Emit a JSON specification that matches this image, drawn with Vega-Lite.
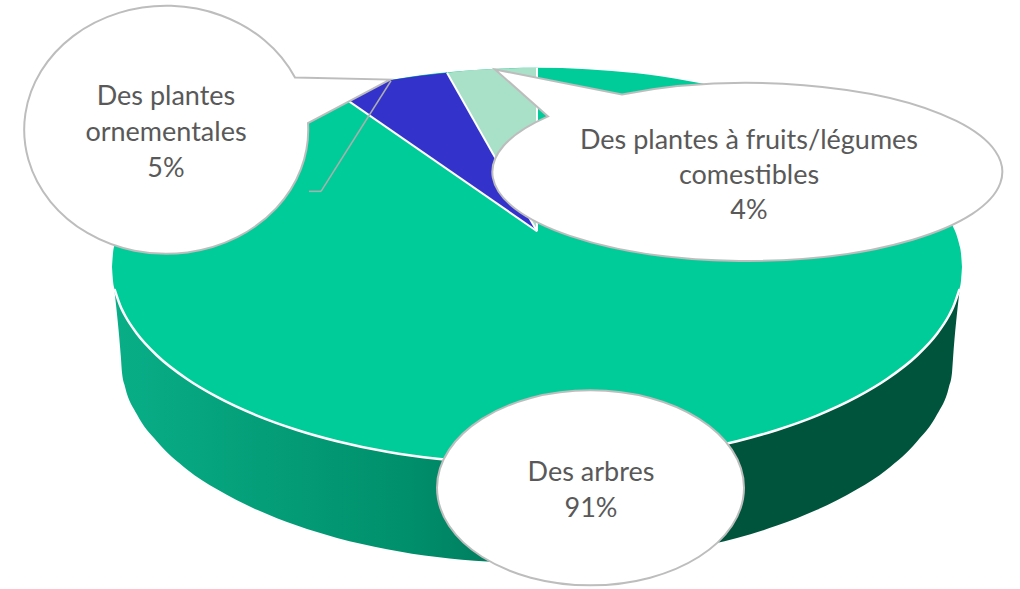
{
"$schema":"https://vega.github.io/schema/vega-lite/v6.json",
"width":1020,"height":589,"padding":0,"autosize":{"type":"fit","contains":"padding"},
"background":"white","config":{"view":{"stroke":null}},
"datasets":{
"slices":[{"name":"Des arbres","value":91,"label":"Des arbres\n91%"},{"name":"Des plantes ornementales","value":5,"label":"Des plantes\nornementales\n5%"},{"name":"Des plantes à fruits/légumes comestibles","value":4,"label":"Des plantes à fruits/légumes\ncomestibles\n4%"}],
"wall":[{"x":114.5,"y":290,"y2":292},{"x":121,"y":308.5,"y2":360},{"x":122,"y":310.7,"y2":374},{"x":125,"y":316.6,"y2":388},{"x":137,"y":334.9,"y2":416},{"x":157,"y":356.7,"y2":443},{"x":187,"y":380.3,"y2":471},{"x":217,"y":398.3,"y2":491},{"x":257,"y":417,"y2":511.6},{"x":297,"y":431.4,"y2":527.4},{"x":337,"y":442.7,"y2":539.8},{"x":387,"y":453.3,"y2":551},{"x":437,"y":460.4,"y2":559},{"x":487,"y":464.6,"y2":563.5},{"x":537,"y":466,"y2":565},{"x":587,"y":464.6,"y2":563.5},{"x":637,"y":460.4,"y2":559},{"x":687,"y":453.3,"y2":551},{"x":737,"y":442.7,"y2":539.8},{"x":777,"y":431.4,"y2":527.4},{"x":817,"y":417,"y2":511.6},{"x":857,"y":398.3,"y2":491},{"x":887,"y":380.3,"y2":471},{"x":917,"y":356.7,"y2":443},{"x":937,"y":334.9,"y2":416},{"x":949,"y":316.6,"y2":388},{"x":952,"y":310.7,"y2":374},{"x":953,"y":308.5,"y2":360},{"x":959.5,"y":290,"y2":292}],
"top":[{"x":112,"y":268,"y2":268},{"x":113,"y":254.3,"y2":281.6},{"x":115,"y":244.3,"y2":291.5},{"x":122,"y":224.9,"y2":310.7},{"x":137,"y":200.4,"y2":334.9},{"x":157,"y":178.4,"y2":356.7},{"x":187,"y":154.5,"y2":380.3},{"x":217,"y":136.4,"y2":398.3},{"x":257,"y":117.5,"y2":417},{"x":297,"y":103,"y2":431.4},{"x":337,"y":91.5,"y2":442.7},{"x":387,"y":80.9,"y2":453.3},{"x":437,"y":73.6,"y2":460.4},{"x":487,"y":69.4,"y2":464.6},{"x":537,"y":68,"y2":466},{"x":587,"y":69.4,"y2":464.6},{"x":637,"y":73.6,"y2":460.4},{"x":687,"y":80.9,"y2":453.3},{"x":737,"y":91.5,"y2":442.7},{"x":777,"y":103,"y2":431.4},{"x":817,"y":117.5,"y2":417},{"x":857,"y":136.4,"y2":398.3},{"x":887,"y":154.5,"y2":380.3},{"x":917,"y":178.4,"y2":356.7},{"x":937,"y":200.4,"y2":334.9},{"x":952,"y":224.9,"y2":310.7},{"x":959,"y":244.3,"y2":291.5},{"x":961,"y":254.3,"y2":281.6},{"x":962,"y":268,"y2":268}],
"blue":[{"x":335,"y":92,"y2":92},{"x":360,"y":86,"y2":109.3},{"x":392,"y":80,"y2":131.5},{"x":420,"y":76,"y2":150.9},{"x":447,"y":73,"y2":169.6},{"x":537,"y":232,"y2":232}],
"light":[{"x":447,"y":73,"y2":73},{"x":470,"y":70.5,"y2":113.6},{"x":497,"y":69,"y2":161.7},{"x":520,"y":68.2,"y2":202},{"x":537,"y":68,"y2":232}],
"edges":[{"x":335,"y":92,"x2":537,"y2":232},{"x":447,"y":73,"x2":537,"y2":232},{"x":537,"y":68,"x2":537,"y2":232}],
"leader":[{"x":391,"y":81,"x2":321,"y2":192},{"x":321,"y":192,"x2":309,"y2":192}]
},
"layer":[
{"data":{"name":"wall"},"mark":{"type":"area","interpolate":"monotone","fill":{"gradient":"linear","x1":0,"x2":1,"y1":0,"y2":0,"stops":[{"offset":0,"color":"#08ae87"},{"offset":0.35,"color":"#008f6b"},{"offset":0.45,"color":"#007d5e"},{"offset":0.7,"color":"#00543c"},{"offset":1,"color":"#00543c"}]}},"encoding":{"x":{"field":"x","type":"quantitative","scale":{"domain":[0,1020],"nice":false,"zero":false},"axis":null},"y":{"field":"y","type":"quantitative","scale":{"domain":[589,0],"nice":false,"zero":false},"axis":null},"y2":{"field":"y2"}}},
{"data":{"name":"top"},"mark":{"type":"area","interpolate":"monotone","fill":"#00CC99"},"encoding":{"x":{"field":"x","type":"quantitative"},"y":{"field":"y","type":"quantitative"},"y2":{"field":"y2"}}},
{"data":{"name":"wall"},"mark":{"type":"line","interpolate":"monotone","stroke":"white","strokeWidth":2.5},"encoding":{"x":{"field":"x","type":"quantitative"},"y":{"field":"y","type":"quantitative"}}},
{"data":{"name":"blue"},"mark":{"type":"area","fill":"#3333CC"},"encoding":{"x":{"field":"x","type":"quantitative"},"y":{"field":"y","type":"quantitative"},"y2":{"field":"y2"}}},
{"data":{"name":"light"},"mark":{"type":"area","fill":"#A9E0C8"},"encoding":{"x":{"field":"x","type":"quantitative"},"y":{"field":"y","type":"quantitative"},"y2":{"field":"y2"}}},
{"data":{"name":"edges"},"mark":{"type":"rule","stroke":"white","strokeWidth":2},"encoding":{"x":{"field":"x","type":"quantitative"},"y":{"field":"y","type":"quantitative"},"x2":{"field":"x2"},"y2":{"field":"y2"}}},
{"data":{"name":"leader"},"mark":{"type":"rule","stroke":"#AEAEAE","strokeWidth":1.5},"encoding":{"x":{"field":"x","type":"quantitative"},"y":{"field":"y","type":"quantitative"},"x2":{"field":"x2"},"y2":{"field":"y2"}}},
{"data":{"name":"slices"},"transform":[{"filter":"datum.value==5"}],"mark":{"type":"point","filled":true,"opacity":1,"fill":"white","stroke":"#BDBDBD","strokeWidth":2,"size":40000,"shape":"M 1.29 -0.525 L 2.24 -0.505 L 1.42 -0.07 A 1.42 1.24 0 1 1 1.29 -0.525 Z"},"encoding":{"x":{"datum":166,"type":"quantitative"},"y":{"datum":130.5,"type":"quantitative"}}},
{"data":{"name":"slices"},"transform":[{"filter":"datum.value==4"}],"mark":{"type":"point","filled":true,"opacity":1,"fill":"white","stroke":"#BDBDBD","strokeWidth":2,"size":40000,"shape":"M -1.26 -0.77 L -2.53 -1.02 L -2.00 -0.55 A 2.55 0.89 0 1 0 -1.26 -0.77 Z"},"encoding":{"x":{"datum":748,"type":"quantitative"},"y":{"datum":172,"type":"quantitative"}}},
{"data":{"name":"slices"},"transform":[{"filter":"datum.value==91"}],"mark":{"type":"point","filled":true,"opacity":1,"fill":"white","stroke":"#BDBDBD","strokeWidth":2,"size":40000,"shape":"M -1.535 0 A 1.535 0.975 0 1 1 1.535 0 A 1.535 0.975 0 1 1 -1.535 0 Z"},"encoding":{"x":{"datum":590.5,"type":"quantitative"},"y":{"datum":489.5,"type":"quantitative"}}},
{"data":{"name":"slices"},"transform":[{"filter":"datum.value==5"}],"mark":{"type":"text","font":"Lato","fontSize":27,"color":"#595959","lineBreak":"\n","lineHeight":36,"align":"center","baseline":"middle"},"encoding":{"x":{"datum":166,"type":"quantitative"},"y":{"datum":97,"type":"quantitative"},"text":{"field":"label"}}},
{"data":{"name":"slices"},"transform":[{"filter":"datum.value==4"}],"mark":{"type":"text","font":"Lato","fontSize":27,"color":"#595959","lineBreak":"\n","lineHeight":35,"align":"center","baseline":"middle"},"encoding":{"x":{"datum":749,"type":"quantitative"},"y":{"datum":141,"type":"quantitative"},"text":{"field":"label"}}},
{"data":{"name":"slices"},"transform":[{"filter":"datum.value==91"}],"mark":{"type":"text","font":"Lato","fontSize":27,"color":"#595959","lineBreak":"\n","lineHeight":36,"align":"center","baseline":"middle"},"encoding":{"x":{"datum":591,"type":"quantitative"},"y":{"datum":475,"type":"quantitative"},"text":{"field":"label"}}}
]
}
